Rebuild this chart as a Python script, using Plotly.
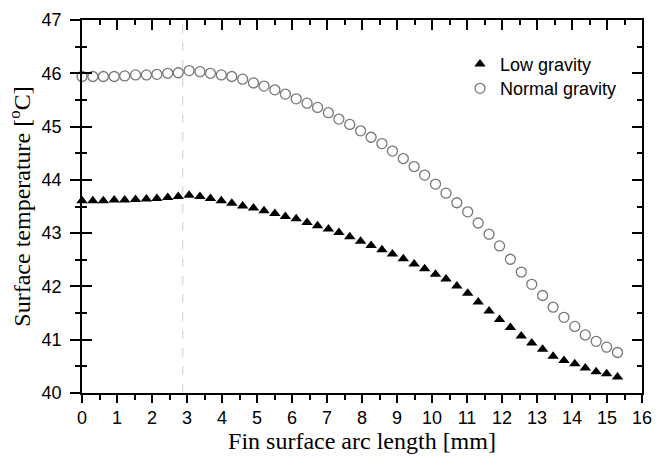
import plotly.graph_objects as go

# Data
arc_length_mm = [0, 0.31, 0.61, 0.92, 1.22, 1.53, 1.84, 2.14, 2.45, 2.75,
                 3.06, 3.37, 3.67, 3.98, 4.28, 4.59, 4.9, 5.2, 5.51, 5.81,
                 6.12, 6.43, 6.73, 7.04, 7.34, 7.65, 7.96, 8.26, 8.57, 8.87,
                 9.18, 9.49, 9.79, 10.1, 10.4, 10.71, 11.02, 11.32, 11.63, 11.93,
                 12.24, 12.55, 12.85, 13.16, 13.46, 13.77, 14.08, 14.38, 14.69, 14.99,
                 15.3]

low_gravity = [43.61, 43.61, 43.61, 43.62, 43.62, 43.63, 43.64, 43.65, 43.67, 43.69,
               43.71, 43.69, 43.65, 43.61, 43.56, 43.51, 43.47, 43.42, 43.37, 43.31,
               43.27, 43.20, 43.14, 43.08, 43.01, 42.93, 42.85, 42.77, 42.69, 42.61,
               42.52, 42.42, 42.33, 42.23, 42.14, 42.01, 41.87, 41.71, 41.54, 41.38,
               41.23, 41.07, 40.94, 40.82, 40.69, 40.61, 40.55, 40.47, 40.40, 40.36,
               40.30]

normal_gravity = [45.94, 45.94, 45.94, 45.94, 45.95, 45.97, 45.97, 45.98, 46.00, 46.01,
                  46.05, 46.03, 46.00, 45.97, 45.94, 45.89, 45.82, 45.76, 45.69, 45.61,
                  45.52, 45.44, 45.36, 45.26, 45.14, 45.04, 44.92, 44.80, 44.68, 44.54,
                  44.40, 44.25, 44.09, 43.92, 43.75, 43.57, 43.40, 43.19, 42.98, 42.76,
                  42.51, 42.27, 42.04, 41.83, 41.61, 41.42, 41.25, 41.09, 40.97, 40.86,
                  40.76]

x_ticks = list(range(0, 17))
y_ticks = list(range(40, 48))
dashed_x = 2.88

SANS = "Liberation Sans, Arial, sans-serif"
SERIF = "Liberation Serif, Times New Roman, serif"

fig = go.Figure()

fig.add_trace(go.Scatter(
    x=arc_length_mm, y=low_gravity, mode="markers", name="Low gravity",
    marker=dict(symbol="triangle-up", size=10, color="black"),
    cliponaxis=False, legend="legend"))

fig.add_trace(go.Scatter(
    x=arc_length_mm, y=normal_gravity, mode="markers", name="Normal gravity",
    marker=dict(symbol="circle-open", size=10, color="#777777", line=dict(width=1.3, color="#777777")),
    cliponaxis=False, legend="legend2"))

# helper trace so the overlay axes (crossing ticks / inside ticks) get drawn
fig.add_trace(go.Scatter(x=[None], y=[None], xaxis="x2", yaxis="y2",
                         showlegend=False, hoverinfo="skip"))

fig.add_shape(type="line", xref="x", yref="paper", x0=dashed_x, x1=dashed_x, y0=0, y1=1,
              line=dict(color="#cfcfcf", width=1, dash="dash"), layer="below")

axis_common = dict(showgrid=False, zeroline=False, showline=True, linecolor="black",
                   linewidth=1.6, tickcolor="black", tickwidth=1.5)

fig.update_layout(
    width=662, height=461,
    margin=dict(l=82, r=10, t=13, b=68),
    plot_bgcolor="white", paper_bgcolor="white",
    font=dict(family=SANS, color="black", size=18),
    xaxis=dict(range=[0, 16], tickmode="array", tickvals=x_ticks, ticktext=[str(v) for v in x_ticks],
               ticks="outside", ticklen=8,
               minor=dict(dtick=0.5, tick0=0, ticks="outside", ticklen=5, tickwidth=1.5, tickcolor="black"),
               tickfont=dict(family=SANS, size=18),
               title=dict(text="Fin surface arc length [mm]", font=dict(family=SERIF, size=24), standoff=4),
               **axis_common),
    yaxis=dict(range=[40, 47], tickmode="array", tickvals=y_ticks, ticktext=[str(v) for v in y_ticks],
               ticks="outside", ticklen=10, ticklabelstandoff=5,
               minor=dict(dtick=0.5, tick0=40, ticks="outside", ticklen=5, tickwidth=1.5, tickcolor="black"),
               tickfont=dict(family=SANS, size=18),
               title=dict(text="Surface temperature [<sup>o</sup>C]", font=dict(family=SERIF, size=24), standoff=4),
               **axis_common),
    xaxis2=dict(range=[0, 16], overlaying="x", side="top", anchor="y", tickvals=x_ticks,
                ticks="inside", ticklen=10, showticklabels=False,
                minor=dict(dtick=0.5, tick0=0, ticks="inside", ticklen=5, tickwidth=1.5, tickcolor="black"),
                **axis_common),
    yaxis2=dict(range=[40, 47], overlaying="y", side="left", anchor="x", tickvals=y_ticks,
                ticks="inside", ticklen=10, showticklabels=False, mirror="ticks",
                minor=dict(dtick=0.5, tick0=40, ticks="inside", ticklen=5, tickwidth=1.5, tickcolor="black"),
                **axis_common),
    legend=dict(x=0.675, y=0.881, xanchor="left", yanchor="middle", bgcolor="rgba(0,0,0,0)",
                font=dict(family=SANS, size=18)),
    legend2=dict(x=0.675, y=0.816, xanchor="left", yanchor="middle", bgcolor="rgba(0,0,0,0)",
                 font=dict(family=SANS, size=18)),
)

fig.write_html("out.html")
